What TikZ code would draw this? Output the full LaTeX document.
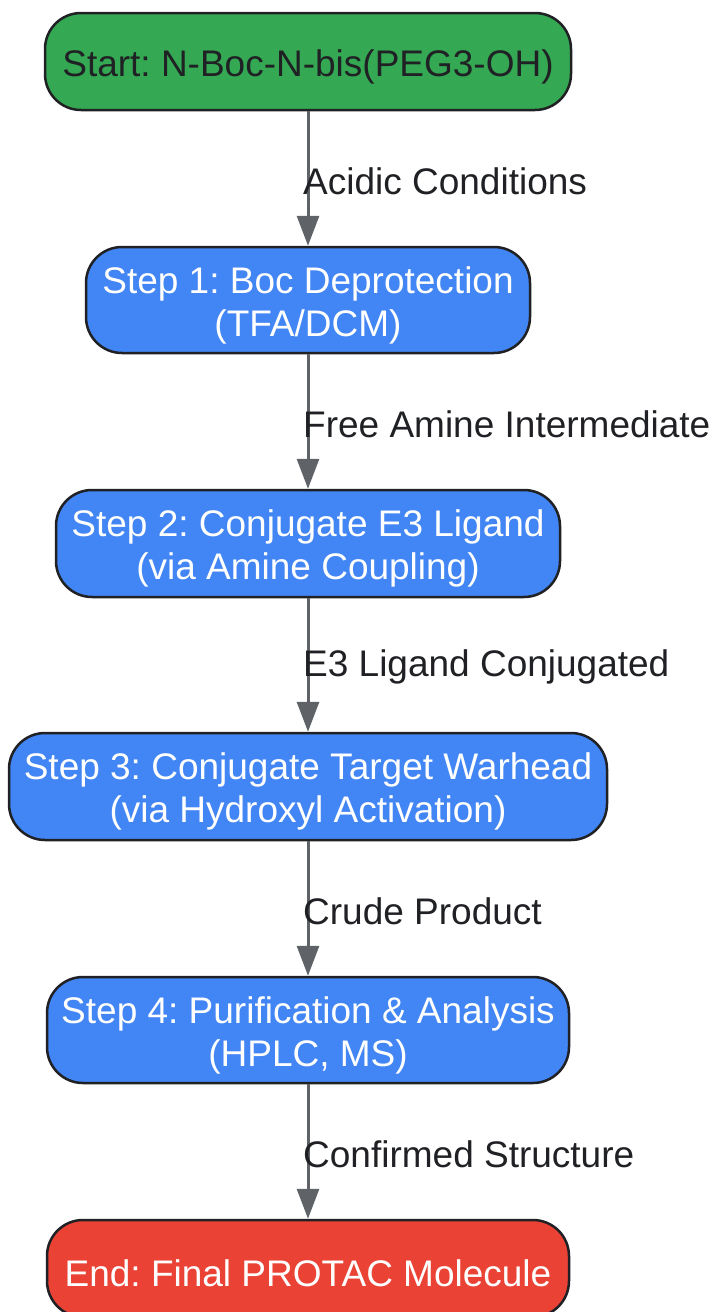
\documentclass[tikz,border=0pt]{standalone}
\usepackage{fontspec}
\setmainfont{Liberation Sans}
\usetikzlibrary{arrows.meta}
\frenchspacing
\definecolor{gstart}{HTML}{34A853}
\definecolor{gstep}{HTML}{4285F4}
\definecolor{gend}{HTML}{EA4335}
\definecolor{edgec}{HTML}{5F6368}
\definecolor{txtdark}{HTML}{202124}
\definecolor{bordc}{HTML}{202124}
\tikzset{
  box/.style={draw=bordc, line width=2.5pt, rounded corners=36pt, inner sep=0pt},
  startbox/.style={box, fill=gstart},
  stepbox/.style={box, fill=gstep},
  endbox/.style={box, fill=gend},
  btext/.style={align=center, inner sep=0pt, font=\fontsize{37}{43}\selectfont, yshift=-5pt},
  conn/.style={draw=edgec, line width=3pt, -{Triangle[length=30pt,width=22pt]}},
  elabel/.style={anchor=west, inner sep=0pt, text=txtdark, font=\fontsize{37}{43}\selectfont}
}
\begin{document}
\begin{tikzpicture}[x=1pt,y=-1pt]
\useasboundingbox (0,0) rectangle (714,1312);
\clip (0,0) rectangle (714,1312);
\fill[white] (0,0) rectangle (714,1312);
\node[startbox, minimum width=526pt, minimum height=97pt] (start) at (308,61.5) {};
\node[btext, text=txtdark] (startt) at (start.center) {Start: N-Boc-N-bis(PEG3-OH)};
\node[stepbox, minimum width=444pt, minimum height=106pt] (s1) at (308,300) {};
\node[btext, text=white] (s1t) at (s1.center) {Step 1: Boc Deprotection\\(TFA/DCM)};
\node[stepbox, minimum width=504pt, minimum height=107pt] (s2) at (308,543.5) {};
\node[btext, text=white] (s2t) at (s2.center) {Step 2: Conjugate E3 Ligand\\(via Amine Coupling)};
\node[stepbox, minimum width=598pt, minimum height=107pt] (s3) at (308,786.5) {};
\node[btext, text=white] (s3t) at (s3.center) {Step 3: Conjugate Target Warhead\\(via Hydroxyl Activation)};
\node[stepbox, minimum width=522pt, minimum height=106pt] (s4) at (308,1030) {};
\node[btext, text=white] (s4t) at (s4.center) {Step 4: Purification \& Analysis\\(HPLC, MS)};
\node[endbox, minimum width=522pt, minimum height=97pt] (end) at (308,1268.5) {};
\node[btext, text=white] (endt) at (end.center) {End: Final PROTAC Molecule};
\draw[conn] (start) -- (s1);
\draw[conn] (s1) -- (s2);
\draw[conn] (s2) -- (s3);
\draw[conn] (s3) -- (s4);
\draw[conn] (s4) -- (end);
\node[elabel] (l1) at (303,181) {Acidic Conditions};
\node[elabel] (l2) at (303,424) {Free Amine Intermediate};
\node[elabel] (l3) at (303,667) {E3 Ligand Conjugated};
\node[elabel] (l4) at (303,911) {Crude Product};
\node[elabel] (l5) at (303,1154) {Confirmed Structure};
\end{tikzpicture}
\end{document}
